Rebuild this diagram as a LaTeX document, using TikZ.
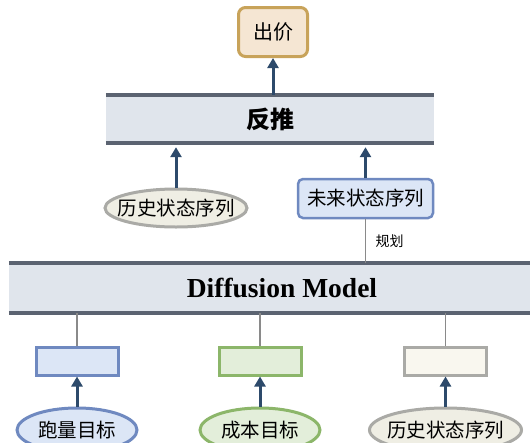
\documentclass[tikz,border=0pt]{standalone}
\usepackage{fontspec}
\newfontfamily\cjk{Noto Sans CJK SC}
\newfontfamily\titleserif{Liberation Serif}
\usetikzlibrary{arrows.meta,shapes.geometric}

\definecolor{bidfill}{HTML}{F5E6D3}
\definecolor{bidedge}{HTML}{C8A35A}
\definecolor{barfill}{HTML}{E0E5EC}
\definecolor{baredge}{HTML}{5B6371}
\definecolor{arrowc}{HTML}{2D4A6B}
\definecolor{linkc}{HTML}{8A8A8A}
\definecolor{bluefill}{HTML}{DCE6F6}
\definecolor{blueedge}{HTML}{6F89C0}
\definecolor{greenfill}{HTML}{E3EEDA}
\definecolor{greenedge}{HTML}{8CB66A}
\definecolor{greyfill}{HTML}{EFEEE4}
\definecolor{greyedge}{HTML}{AAAAA6}
\definecolor{creamfill}{HTML}{F9F7EF}

\tikzset{
  up/.style={draw=arrowc, line width=3pt, -{Triangle[width=11pt,length=10pt]}},
  link/.style={draw=linkc, line width=1.6pt},
  barbox/.style={fill=barfill, inner sep=0pt},
  barline/.style={draw=baredge, line width=4pt},
  oval/.style={ellipse, line width=3pt, inner sep=0pt},
  tag/.style={rounded corners=5pt, line width=2.5pt, inner sep=0pt},
  slot/.style={line width=3pt, inner sep=0pt, minimum width=82pt, minimum height=28pt},
  cn/.style={font=\cjk\fontsize{19.5}{22}\selectfont},
}

\begin{document}
\begin{tikzpicture}[x=1pt,y=-1pt]
\clip (0,0) rectangle (530,442);
\fill[white] (0,0) rectangle (530,442);

% output node
\node[tag, rounded corners=7pt, line width=3pt, fill=bidfill, draw=bidedge,
      minimum width=69pt, minimum height=49pt, font=\cjk\fontsize{20}{22}\selectfont] (bid) at (273,32) {出价};

% inverse-dynamics bar
\node[barbox, minimum width=328pt, minimum height=48pt,
      font=\cjk\bfseries\fontsize{24}{26}\selectfont] (inv) at (270,119) {反推};
\draw[barline] (inv.north west) -- (inv.north east);
\draw[barline] (inv.south west) -- (inv.south east);

% inputs of the bar
\node[oval, fill=greyfill, draw=greyedge, minimum width=142pt, minimum height=38pt, cn]
  (histA) at (176,208) {\makebox[0pt]{历史状态序列}};
\node[tag, fill=bluefill, draw=blueedge, minimum width=135pt, minimum height=39pt, cn]
  (future) at (365.5,198.5) {未来状态序列};

% diffusion model bar
\node[barbox, minimum width=540pt, minimum height=50pt] (dm) at (279,288) {};
\node[font=\titleserif\bfseries\fontsize{27.5}{30}\selectfont] (dmtext) at (282,288) {Diffusion Model};
\draw[barline] (dm.north west) -- (dm.north east);
\draw[barline] (dm.south west) -- (dm.south east);

% condition slots
\node[slot, fill=bluefill, draw=blueedge] (s1) at (77,361) {};
\node[slot, fill=greenfill, draw=greenedge] (s2) at (260,361) {};
\node[slot, fill=creamfill, draw=greyedge] (s3) at (445.5,361) {};

% condition inputs
\node[oval, fill=bluefill, draw=blueedge, minimum width=120pt, minimum height=44pt, cn]
  (e1) at (77,430) {\makebox[0pt]{跑量目标}};
\node[oval, fill=greenfill, draw=greenedge, minimum width=120pt, minimum height=44pt, cn]
  (e2) at (260,430) {\makebox[0pt]{成本目标}};
\node[oval, fill=greyfill, draw=greyedge, minimum width=152pt, minimum height=44pt, cn]
  (e3) at (445.5,430) {\makebox[0pt]{历史状态序列}};

% connectors
\draw[up] (inv.north -| bid) -- (bid.south);
\draw[up] (histA.north) -- ([yshift=-4pt]histA.north |- inv.south);
\draw[up] (future.north) -- ([yshift=-4pt]future.north |- inv.south);
\draw[link] (future.south) -- node[right, xshift=6pt, font=\cjk\fontsize{14}{16}\selectfont] (plan) {规划} (future.south |- dm.north);

\draw[link] (s1.north) -- (s1.north |- dm.south);
\draw[link] (s2.north) -- (s2.north |- dm.south);
\draw[link] (s3.north) -- (s3.north |- dm.south);

\draw[up] (e1.north) -- (s1.south);
\draw[up] (e2.north) -- (s2.south);
\draw[up] (e3.north) -- (s3.south);
\end{tikzpicture}
\end{document}
